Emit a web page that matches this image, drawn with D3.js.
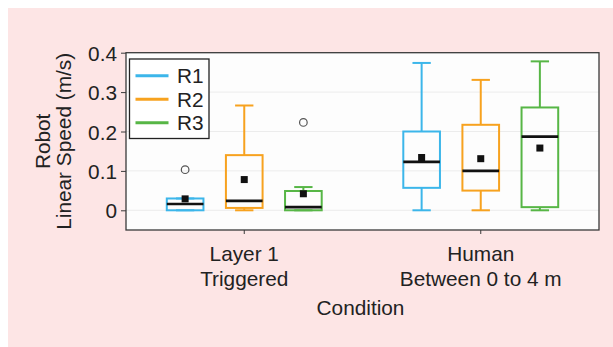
<!DOCTYPE html>
<html><head><meta charset="utf-8">
<script src="https://cdn.jsdelivr.net/npm/d3@7"></script>
<style>html,body{margin:0;padding:0;background:#fff;}svg{display:block;}</style>
</head><body>
<script>
const categories = ["Layer 1|Triggered", "Human|Between 0 to 4 m"];
const seriesNames = ["R1", "R2", "R3"];
const seriesColors = ["#3cb6ea", "#f7a21f", "#57b646"];
// per category, per series: [whiskerLow, q1, median, q3, whiskerHigh]
const boxStats = [
  [[0, 0, 0.016, 0.030, 0.030], [0, 0.006, 0.024, 0.140, 0.266], [0, 0, 0.008, 0.049, 0.059]],
  [[0, 0.057, 0.123, 0.200, 0.374], [0, 0.050, 0.100, 0.217, 0.331], [0, 0.008, 0.187, 0.261, 0.378]]
];
const means = [[0.029, 0.078, 0.042], [0.134, 0.131, 0.158]];
const outliers = [[[0.103], [], [0.223]], [[], [], []]];
const yTicks = [0, 0.1, 0.2, 0.3, 0.4];
const yTickLabels = ["0", "0.1", "0.2", "0.3", "0.4"];

const W = 613, H = 347;
const m = {left: 126, right: 14, top: 52.7, bottom: 117};
const svg = d3.select("body").append("svg").attr("width", W).attr("height", H);
const font = "'Liberation Sans', Arial, Helvetica, sans-serif";
const fs = 20.8;

svg.append("rect").attr("x", 8).attr("y", 8).attr("width", W - 8).attr("height", H - 8).attr("fill", "#fde5e5");

const x0 = d3.scaleBand().domain(categories).range([m.left, W - m.right]).padding(0);
const y = d3.scaleLinear().domain([-0.05, 0.4]).range([H - m.bottom, m.top]);

const pw = W - m.right - m.left;
svg.append("rect").attr("x", m.left).attr("y", m.top).attr("width", pw).attr("height", y(-0.05) - m.top)
  .attr("fill", "#fdfdfd");

// grid
svg.append("g").selectAll("line").data(yTicks.slice(0, 4)).join("line")
  .attr("x1", m.left).attr("x2", W - m.right)
  .attr("y1", d => y(d)).attr("y2", d => y(d))
  .attr("stroke", "#ececec").attr("stroke-width", 1);

const plot = svg.append("g");
categories.forEach((cat, ci) => {
  const c = x0(cat) + x0.bandwidth() / 2;
  const half = x0.bandwidth() * 0.375;
  const x1 = d3.scaleBand().domain(seriesNames).range([c - half, c + half]).paddingInner(0.38).paddingOuter(0.19);
  seriesNames.forEach((s, si) => {
    const [lo, q1, med, q3, hi] = boxStats[ci][si];
    const col = seriesColors[si];
    const bx = x1(s), bw = x1.bandwidth(), cx = bx + bw / 2;
    const g = plot.append("g");
    g.append("line").attr("x1", cx).attr("x2", cx).attr("y1", y(q3)).attr("y2", y(hi)).attr("stroke", col).attr("stroke-width", 2);
    g.append("line").attr("x1", cx).attr("x2", cx).attr("y1", y(q1)).attr("y2", y(lo)).attr("stroke", col).attr("stroke-width", 2);
    g.append("line").attr("x1", cx - bw / 4).attr("x2", cx + bw / 4).attr("y1", y(hi)).attr("y2", y(hi)).attr("stroke", col).attr("stroke-width", 2);
    g.append("line").attr("x1", cx - bw / 4).attr("x2", cx + bw / 4).attr("y1", y(lo)).attr("y2", y(lo)).attr("stroke", col).attr("stroke-width", 2);
    g.append("rect").attr("x", bx).attr("y", y(q3)).attr("width", bw).attr("height", Math.max(0, y(q1) - y(q3)))
      .attr("fill", "none").attr("stroke", col).attr("stroke-width", 2);
    g.append("line").attr("x1", bx).attr("x2", bx + bw).attr("y1", y(med)).attr("y2", y(med)).attr("stroke", "#111").attr("stroke-width", 2.6);
    g.append("rect").attr("x", cx - 3.5).attr("y", y(means[ci][si]) - 3.5).attr("width", 7).attr("height", 7).attr("fill", "#111");
    g.selectAll("circle").data(outliers[ci][si]).join("circle")
      .attr("cx", cx).attr("cy", d => y(d)).attr("r", 3.8)
      .attr("fill", "none").attr("stroke", "#555").attr("stroke-width", 1.2);
  });
});

// frame
svg.append("rect").attr("x", m.left).attr("y", m.top).attr("width", pw).attr("height", y(-0.05) - m.top)
  .attr("fill", "none").attr("stroke", "#3a3a3a").attr("stroke-width", 1.3);

// y axis
const yAxis = d3.axisLeft(y).tickValues(yTicks).tickFormat((d, i) => yTickLabels[i]).tickSize(5).tickPadding(4);
const yg = svg.append("g").attr("transform", `translate(${m.left},0)`).call(yAxis);
yg.select(".domain").remove();
yg.selectAll("line").attr("stroke", "#3a3a3a");
yg.selectAll("text").attr("font-family", font).attr("font-size", fs).attr("fill", "#222").attr("dy", "0.36em");

// x axis
const xAxis = d3.axisBottom(x0).tickSize(4).tickFormat("");
const xg = svg.append("g").attr("transform", `translate(0,${y(-0.05)})`).call(xAxis);
xg.select(".domain").remove();
xg.selectAll("line").attr("stroke", "#3a3a3a");
categories.forEach(cat => {
  const parts = cat.split("|");
  const cx = x0(cat) + x0.bandwidth() / 2;
  parts.forEach((p, i) => {
    svg.append("text").attr("x", cx).attr("y", 260.7 + i * 25.2).attr("text-anchor", "middle")
      .attr("font-family", font).attr("font-size", fs).attr("fill", "#222").text(p);
  });
});
svg.append("text").attr("x", (m.left + W - m.right) / 2 - 2).attr("y", 315).attr("text-anchor", "middle")
  .attr("font-family", font).attr("font-size", fs).attr("fill", "#222").text("Condition");

// y label
const yc = (m.top + y(-0.05)) / 2;
svg.append("text").attr("transform", `translate(50,${yc}) rotate(-90)`).attr("text-anchor", "middle")
  .attr("font-family", font).attr("font-size", fs).attr("fill", "#222").text("Robot");
svg.append("text").attr("transform", `translate(70.5,${yc}) rotate(-90)`).attr("text-anchor", "middle")
  .attr("font-family", font).attr("font-size", fs).attr("fill", "#222").text("Linear Speed (m/s)");

// legend
const lg = svg.append("g");
lg.append("rect").attr("x", 129.5).attr("y", 59).attr("width", 79.5).attr("height", 79.5)
  .attr("fill", "#fff").attr("stroke", "#222").attr("stroke-width", 1.3);
seriesNames.forEach((s, i) => {
  const ly = 75.7 + i * 23.5;
  lg.append("line").attr("x1", 135.5).attr("x2", 168.5).attr("y1", ly).attr("y2", ly)
    .attr("stroke", seriesColors[i]).attr("stroke-width", 3);
  lg.append("text").attr("x", 177).attr("y", ly).attr("dy", "0.36em")
    .attr("font-family", font).attr("font-size", fs).attr("fill", "#222").text(s);
});
</script>
</body></html>
